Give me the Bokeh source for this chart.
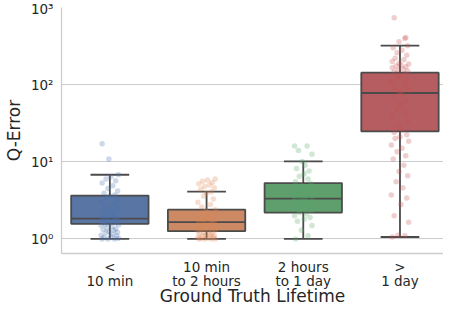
from bokeh.plotting import figure
from bokeh.models import Range1d, FixedTicker
from bokeh.embed import file_html
from bokeh.resources import INLINE

categories = ["<\n10 min", "10 min\nto 2 hours", "2 hours\nto 1 day", ">\n1 day"]

# box statistics
q1 = [1.57, 1.26, 2.2, 24.8]
median = [1.84, 1.65, 3.34, 78.0]
q3 = [3.65, 2.4, 5.3, 143.0]
whisker_lo = [1.0, 1.0, 1.0, 1.06]
whisker_hi = [6.8, 4.1, 10.1, 321.0]

# strip-plot points (values) and their jitter offsets
vals_short = [1.0, 1.0, 1.0, 1.02, 1.05, 1.08, 1.1, 1.12, 1.15, 1.2, 1.22, 1.25, 1.3, 1.32,
              1.35, 1.4, 1.45, 1.5, 1.52, 1.55, 1.6, 1.62, 1.65, 1.7, 1.75, 1.8, 1.85, 1.9,
              1.95, 2.0, 2.1, 2.2, 2.3, 2.4, 2.5, 2.6, 2.8, 3.0, 3.2, 3.4, 3.6, 3.7, 3.9,
              4.2, 4.5, 4.9, 5.3, 5.7, 6.0, 6.4, 6.8, 10.9, 17.1]
vals_hours = [1.0, 1.0, 1.0, 1.0, 1.02, 1.03, 1.05, 1.06, 1.08, 1.1, 1.1, 1.12, 1.15, 1.18,
              1.2, 1.22, 1.25, 1.26, 1.3, 1.35, 1.4, 1.45, 1.5, 1.55, 1.6, 1.65, 1.7, 1.75,
              1.8, 1.9, 2.0, 2.1, 2.2, 2.3, 2.4, 2.6, 2.8, 3.0, 3.3, 3.6, 3.9, 4.1, 4.4,
              4.6, 4.8, 5.0, 5.2, 5.4, 5.6, 5.8, 6.0]
vals_day = [1.0, 1.1, 1.3, 1.5, 1.7, 1.8, 1.9, 2.0, 2.1, 2.2, 2.3, 2.5, 2.7, 2.9, 3.0, 3.2,
            3.3, 3.4, 3.5, 3.7, 3.9, 4.1, 4.3, 4.6, 4.9, 5.2, 5.5, 6.0, 6.5, 7.0, 7.6, 8.2,
            9.0, 10.1, 12.5, 14.0, 16.0, 16.0]
vals_long = [1.06, 1.1, 1.12, 1.65, 2.0, 2.8, 3.4, 3.7, 4.6, 5.5, 6.6, 7.5, 9.0, 10.9, 12.0,
             13.5, 15.0, 16.5, 18.5, 20.0, 21.0, 22.5, 24.0, 26.0, 30.0, 34.0, 38.0, 42.0,
             48.0, 55.0, 62.0, 70.0, 76.0, 80.0, 85.0, 92.0, 100.0, 108.0, 115.0, 122.0,
             130.0, 138.0, 146.0, 150.0, 155.0, 160.0, 165.0, 170.0, 175.0, 180.0, 185.0,
             190.0, 200.0, 210.0, 220.0, 240.0, 260.0, 280.0, 300.0, 320.0, 360.0, 395.0,
             410.0, 735.0]
jitter = [-0.08, 0.05, -0.02, 0.09, -0.06, 0.01, 0.07, -0.09, 0.03, -0.04, 0.08, -0.01,
          0.04, -0.07, 0.06, -0.03, 0.02, -0.09, 0.09, -0.05, 0.0, 0.07, -0.06, 0.03,
          -0.02, 0.08, -0.08, 0.05, -0.04, 0.01, 0.06, -0.07, 0.02, -0.01, 0.09, -0.05,
          0.04, -0.09, 0.07, -0.03, 0.0, 0.05, -0.06, 0.08, -0.02, 0.03, -0.08, 0.06,
          -0.04, 0.01, 0.09, -0.01, -0.08, 0.04, -0.05, 0.07, -0.03, 0.02, -0.07, 0.08,
          -0.01, 0.05, 0.06, -0.06]

point_colors = ["#4C72B0", "#DD8452", "#55A868", "#C44E52"]
box_colors = ["#5875A4", "#CC8963", "#5F9E6D", "#B55D60"]
line_color = "#4b4b4b"

p = figure(width=443, height=309, output_backend="svg", toolbar_location=None,
           y_axis_type="log", x_range=Range1d(-0.5, 3.45), y_range=Range1d(0.648, 1000),
           min_border_left=10, min_border_right=0, min_border_top=7, min_border_bottom=10)
p.outline_line_color = None

xs = list(range(len(categories)))

# whiskers
p.segment(x0=xs, x1=xs, y0=whisker_lo, y1=q1, line_color=line_color, line_width=1.8)
p.segment(x0=xs, x1=xs, y0=q3, y1=whisker_hi, line_color=line_color, line_width=1.8)
caps_x0 = [x - 0.2 for x in xs]
caps_x1 = [x + 0.2 for x in xs]
p.segment(x0=caps_x0, x1=caps_x1, y0=whisker_lo, y1=whisker_lo, line_color=line_color, line_width=1.8)
p.segment(x0=caps_x0, x1=caps_x1, y0=whisker_hi, y1=whisker_hi, line_color=line_color, line_width=1.8)

# boxes
p.vbar(x=xs, width=0.8, bottom=q1, top=q3, fill_color=box_colors,
       line_color=line_color, line_width=1.8)
p.segment(x0=[x - 0.4 for x in xs], x1=[x + 0.4 for x in xs], y0=median, y1=median,
          line_color=line_color, line_width=1.8)

# strip points
for i, vals in enumerate([vals_short, vals_hours, vals_day, vals_long]):
    px = [i + jitter[k % len(jitter)] for k in range(len(vals))]
    p.scatter(x=px, y=vals, size=5.5, fill_color=point_colors[i], line_color=None,
              fill_alpha=0.28)

# axes
p.xaxis.ticker = FixedTicker(ticks=xs)
p.xaxis.major_label_overrides = {i: c for i, c in enumerate(categories)}
p.yaxis.ticker = FixedTicker(ticks=[1, 10, 100, 1000], minor_ticks=[])
p.yaxis.major_label_overrides = {1: "10\u2070", 10: "10\u00b9", 100: "10\u00b2", 1000: "10\u00b3"}
p.ygrid.ticker = FixedTicker(ticks=[1, 10, 100, 1000], minor_ticks=[])

for ax in (p.xaxis, p.yaxis):
    ax.major_tick_line_color = None
    ax.minor_tick_line_color = None
    ax.major_tick_in = 0
    ax.major_tick_out = 0
    ax.minor_tick_in = 0
    ax.minor_tick_out = 0
    ax.axis_line_color = "#cccccc"
    ax.axis_line_width = 1.3
    ax.major_label_text_font = "DejaVu Sans"
    ax.major_label_text_font_size = "13.5px"
    ax.major_label_text_color = "#262626"
    ax.axis_label_text_font = "DejaVu Sans"
    ax.axis_label_text_font_size = "17px"
    ax.axis_label_text_font_style = "normal"
    ax.axis_label_text_color = "#262626"

p.xaxis.major_label_text_line_height = 0.93
p.xaxis.axis_label = "Ground Truth Lifetime"
p.yaxis.axis_label = "Q-Error"
p.xaxis.major_label_standoff = 5
p.xaxis.axis_label_standoff = -6
p.yaxis.major_label_standoff = 8
p.yaxis.axis_label_standoff = 4

p.xgrid.grid_line_color = None
p.ygrid.grid_line_color = "#cccccc"
p.ygrid.grid_line_width = 1

open("out.html", "w").write(file_html(p, INLINE))
